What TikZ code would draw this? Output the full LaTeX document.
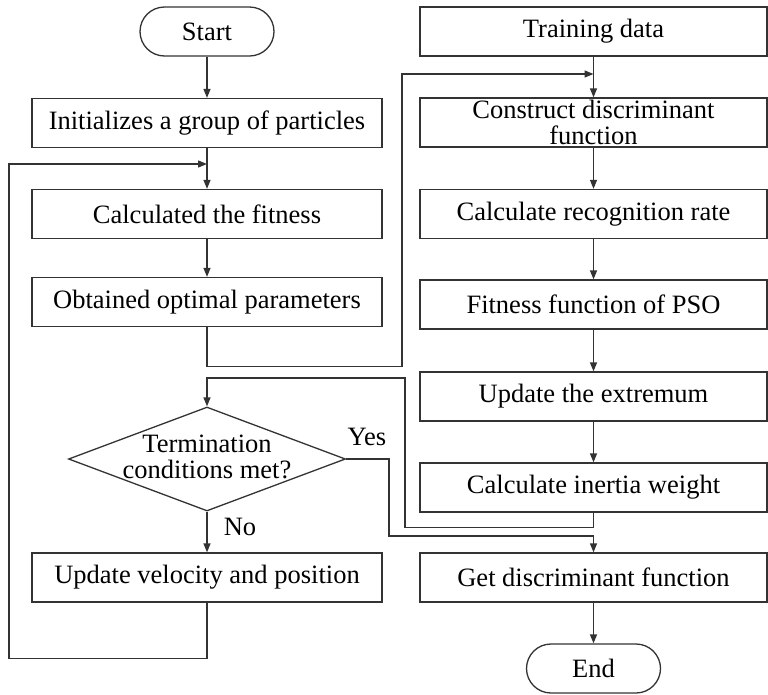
\documentclass[tikz,border=0pt]{standalone}
\usepackage{fontspec}
\setmainfont{Liberation Serif}
\usetikzlibrary{arrows.meta,shapes.geometric,shapes.misc}
\definecolor{linec}{HTML}{333333}
\begin{document}
\begin{tikzpicture}[x=1pt,y=-1pt,
  every node/.style={font=\fontsize{26.5}{26}\selectfont, text=black},
  box/.style={draw=linec, line width=1.3pt, rectangle, minimum height=49pt, inner sep=0pt, align=center},
  lbox/.style={box, minimum width=350pt},
  rbox/.style={box, minimum width=347pt},
  term/.style={draw=linec, line width=1.3pt, rounded rectangle, minimum width=134pt, minimum height=49pt, inner sep=0pt},
  conn/.style={draw=linec, line width=1.3pt},
  arr/.style={conn, -{Triangle[length=9pt,width=7pt]}},
  lbl/.style={inner sep=0pt}
]
\useasboundingbox (0,0) rectangle (768,694);
\fill[white] (0,0) rectangle (768,694);

% left column
\node[term] (start) at (207,31.5) {Start};
\node[lbox] (init) at (207,123) {Initializes a group of particles};
\node[lbox] (fit) at (207,214) {Calculated the fitness};
\node[lbox] (opt) at (207,302) {Obtained optimal parameters};
\node[diamond, draw=linec, line width=1.3pt, minimum width=277pt, minimum height=104pt, inner sep=0pt] (dia) at (207,459) {};
\node[align=center, inner sep=0pt] (diatext) at (207,457) {Termination\\conditions met?};
\node[lbox] (upd) at (207,577.5) {Update velocity and position};

% right column
\node[rbox] (train) at (593.5,31.5) {Training data};
\node[rbox] (cons) at (593.5,122.5) {Construct discriminant\\function};
\node[rbox] (rec) at (593.5,214) {Calculate recognition rate};
\node[rbox] (fitpso) at (593.5,304.5) {Fitness function of PSO};
\node[rbox] (ext) at (593.5,396.5) {Update the extremum};
\node[rbox] (inertia) at (593.5,487.5) {Calculate inertia weight};
\node[rbox] (get) at (593.5,577.5) {Get discriminant function};
\node[term] (end) at (593.5,668.5) {End};

% labels
\node[lbl] (yes) at (367,437) {Yes};
\node[lbl] (no) at (240,527) {No};

% coordinates
\coordinate (fitin) at (207,164);
\coordinate (consin) at (593.5,74);

% connectors
\draw[arr] (start.south) -- (init.north);
\draw[arr] (init.south) -- (fit.north);
\draw[arr] (fit.south) -- (opt.north);
\draw[arr] (dia.south) -- (upd.north);
\draw[arr] (upd.south) -- ++(0,55.5) -| (9,164) -- (fitin);
\draw[arr] (opt.south) -- ++(0,39) -| (402,74) -- (consin);

\draw[arr] (train.south) -- (cons.north);
\draw[arr] (cons.south) -- (rec.north);
\draw[arr] (rec.south) -- (fitpso.north);
\draw[arr] (fitpso.south) -- (ext.north);
\draw[arr] (ext.south) -- (inertia.north);
\draw[arr] (inertia.south) -- ++(0,15) -| (405,378) -| (dia.north);
\draw[arr] (dia.east) -| (389,536) -| (get.north);
\draw[arr] (get.south) -- (end.north);
\end{tikzpicture}
\end{document}
